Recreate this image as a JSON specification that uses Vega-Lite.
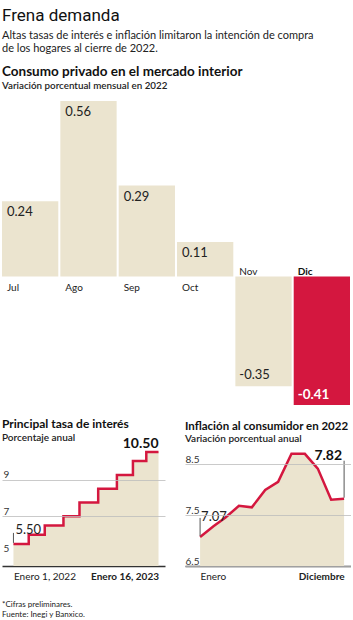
{
  "$schema": "https://vega.github.io/schema/vega-lite/v6.json",
  "background": "white",
  "padding": {"left": 2, "right": 0, "top": 6, "bottom": 0},
  "config": {
    "view": {"stroke": null},
    "font": "Lato",
    "text": {"font": "Lato", "color": "#222"},
    "axis": {"labelFont": "Lato", "labelColor": "#333"},
    "locale": {
      "number": {"decimal": ".", "thousands": ",", "grouping": [3], "currency": ["$", ""], "minus": "-"},
      "time": {
        "dateTime": "%A, %e de %B de %Y, %X",
        "date": "%d/%m/%Y",
        "time": "%H:%M:%S",
        "periods": ["AM", "PM"],
        "days": ["Domingo", "Lunes", "Martes", "Miércoles", "Jueves", "Viernes", "Sábado"],
        "shortDays": ["Dom", "Lun", "Mar", "Mié", "Jue", "Vie", "Sáb"],
        "months": ["Enero", "Febrero", "Marzo", "Abril", "Mayo", "Junio", "Julio", "Agosto", "Septiembre", "Octubre", "Noviembre", "Diciembre"],
        "shortMonths": ["Ene", "Feb", "Mar", "Abr", "May", "Jun", "Jul", "Ago", "Sep", "Oct", "Nov", "Dic"]
      }
    }
  },
  "title": {
    "text": "Frena demanda",
    "subtitle": ["Altas tasas de interés e inflación limitaron la intención de compra", "de los hogares al cierre de 2022."],
    "anchor": "start",
    "frame": "group",
    "font": "Roboto",
    "fontSize": 17,
    "fontWeight": "normal",
    "color": "#111",
    "subtitleFont": "Lato",
    "subtitleFontSize": 11,
    "subtitleColor": "#222",
    "subtitleLineHeight": 13,
    "subtitlePadding": 5,
    "offset": 10
  },
  "spacing": 12,
  "vconcat": [
    {
      "width": 348,
      "height": 304,
      "title": {
        "text": "Consumo privado en el mercado interior",
        "subtitle": "Variación porcentual mensual en 2022",
        "anchor": "start",
        "frame": "group",
        "font": "Lato",
        "fontSize": 13.5,
        "fontWeight": "bold",
        "color": "#111",
        "subtitleFont": "Lato",
        "subtitleFontSize": 9.8,
        "subtitleFontWeight": 600,
        "subtitleColor": "#222",
        "subtitlePadding": 3,
        "offset": 10
      },
      "data": {
        "values": [
          {"mes": "Jul", "valor": 0.24},
          {"mes": "Ago", "valor": 0.56},
          {"mes": "Sep", "valor": 0.29},
          {"mes": "Oct", "valor": 0.11},
          {"mes": "Nov", "valor": -0.35},
          {"mes": "Dic", "valor": -0.41}
        ]
      },
      "encoding": {
        "x": {"field": "mes", "type": "nominal", "sort": null, "axis": null, "scale": {"paddingInner": 0.035, "paddingOuter": 0}}
      },
      "layer": [
        {
          "mark": {"type": "bar"},
          "encoding": {
            "y": {"field": "valor", "type": "quantitative", "axis": null, "scale": {"domain": [-0.41, 0.56], "nice": false}},
            "color": {"condition": {"test": "datum.mes === 'Dic'", "value": "#d4173f"}, "value": "#ebe4cf"}
          }
        },
        {
          "transform": [{"filter": "datum.valor > 0"}],
          "mark": {"type": "text", "align": "left", "baseline": "top", "dx": 5, "dy": 5, "fontSize": 13},
          "encoding": {
            "x": {"field": "mes", "type": "nominal", "sort": null, "bandPosition": 0},
            "y": {"field": "valor", "type": "quantitative"},
            "text": {"field": "valor", "type": "quantitative", "format": ".2f"}
          }
        },
        {
          "transform": [{"filter": "datum.mes === 'Nov'"}],
          "mark": {"type": "text", "align": "left", "baseline": "bottom", "dx": 4, "dy": -4, "fontSize": 13, "color": "#222"},
          "encoding": {
            "x": {"field": "mes", "type": "nominal", "sort": null, "bandPosition": 0},
            "y": {"field": "valor", "type": "quantitative"},
            "text": {"field": "valor", "type": "quantitative", "format": ".2f"}
          }
        },
        {
          "transform": [{"filter": "datum.mes === 'Dic'"}],
          "mark": {"type": "text", "align": "left", "baseline": "bottom", "dx": 4, "dy": -3, "fontSize": 13.5, "fontWeight": "bold", "color": "white"},
          "encoding": {
            "x": {"field": "mes", "type": "nominal", "sort": null, "bandPosition": 0},
            "y": {"field": "valor", "type": "quantitative"},
            "text": {"field": "valor", "type": "quantitative", "format": ".2f"}
          }
        },
        {
          "transform": [{"filter": "datum.valor > 0"}],
          "mark": {"type": "text", "align": "left", "baseline": "top", "dx": 5, "dy": 6, "fontSize": 10},
          "encoding": {
            "x": {"field": "mes", "type": "nominal", "sort": null, "bandPosition": 0},
            "y": {"datum": 0},
            "text": {"field": "mes", "type": "nominal"}
          }
        },
        {
          "transform": [{"filter": "datum.mes === 'Nov'"}],
          "mark": {"type": "text", "align": "left", "baseline": "bottom", "dx": 4, "dy": 0, "fontSize": 10},
          "encoding": {
            "x": {"field": "mes", "type": "nominal", "sort": null, "bandPosition": 0},
            "y": {"datum": 0},
            "text": {"field": "mes", "type": "nominal"}
          }
        },
        {
          "transform": [{"filter": "datum.mes === 'Dic'"}],
          "mark": {"type": "text", "align": "left", "baseline": "bottom", "dx": 4, "dy": 0, "fontSize": 10, "fontWeight": "bold", "color": "#111"},
          "encoding": {
            "x": {"field": "mes", "type": "nominal", "sort": null, "bandPosition": 0},
            "y": {"datum": 0},
            "text": {"field": "mes", "type": "nominal"}
          }
        }
      ]
    },
    {
      "spacing": 20,
      "title": {
        "text": ["*Cifras preliminares.", "Fuente: Inegi y Banxico."],
        "orient": "bottom",
        "anchor": "start",
        "frame": "group",
        "font": "Lato",
        "fontSize": 8,
        "fontWeight": "normal",
        "lineHeight": 10,
        "color": "#222",
        "offset": 20
      },
      "hconcat": [
        {
          "width": 163,
          "height": 129,
          "title": {
            "text": "Principal tasa de interés",
            "subtitle": "Porcentaje anual",
            "anchor": "start",
            "frame": "group",
            "font": "Lato",
            "fontSize": 12,
            "fontWeight": "bold",
            "color": "#111",
            "subtitleFont": "Lato",
            "subtitleFontSize": 10,
            "subtitleFontWeight": 600,
            "subtitleColor": "#222",
            "subtitlePadding": 2,
            "offset": -7
          },
          "data": {
            "values": [
              {"fecha": "2022-01-01T00:00:00", "tasa": 5.5},
              {"fecha": "2022-02-10T00:00:00", "tasa": 6.0},
              {"fecha": "2022-03-24T00:00:00", "tasa": 6.5},
              {"fecha": "2022-05-12T00:00:00", "tasa": 7.0},
              {"fecha": "2022-06-23T00:00:00", "tasa": 7.75},
              {"fecha": "2022-08-11T00:00:00", "tasa": 8.5},
              {"fecha": "2022-09-29T00:00:00", "tasa": 9.25},
              {"fecha": "2022-11-10T00:00:00", "tasa": 10.0},
              {"fecha": "2022-12-15T00:00:00", "tasa": 10.5},
              {"fecha": "2023-01-16T00:00:00", "tasa": 10.5}
            ]
          },
          "encoding": {
            "x": {
              "field": "fecha",
              "type": "temporal",
              "scale": {"domain": [{"year": 2021, "month": 12, "date": 2}, {"year": 2023, "month": 2, "date": 2}], "nice": false},
              "axis": {
                "title": null,
                "values": [{"year": 2022, "month": 1, "date": 1}, {"year": 2023, "month": 1, "date": 16}],
                "format": "%B %-d, %Y",
                "grid": false,
                "ticks": false,
                "domainColor": "#333",
                "domainWidth": 1.5,
                "labelFontSize": 10,
                "labelPadding": 5,
                "labelColor": "#222",
                "labelAlign": {"condition": {"test": "year(datum.value) == 2022", "value": "left"}, "value": "right"},
                "labelFontWeight": {"condition": {"test": "year(datum.value) == 2022", "value": "normal"}, "value": "bold"}
              }
            },
            "y": {
              "field": "tasa",
              "type": "quantitative",
              "stack": null,
              "scale": {"domain": [4.3, 11.31], "nice": false, "zero": false},
              "axis": {
                "title": null,
                "values": [5, 7, 9],
                "domain": false,
                "ticks": false,
                "tickSize": 0,
                "labelAlign": "left",
                "labelBaseline": "alphabetic",
                "labelPadding": -1,
                "labelOffset": -2,
                "labelFontSize": 10,
                "gridColor": "#bdbdbd",
                "gridWidth": 0.8,
                "gridOpacity": {"condition": {"test": "datum.value == 5", "value": 0}, "value": 1},
                "zindex": 1
              }
            }
          },
          "layer": [
            {"mark": {"type": "area", "interpolate": "step-after", "color": "#ebe4cf"}, "encoding": {"y2": {"datum": 4.3}}},
            {"mark": {"type": "line", "interpolate": "step-after", "color": "#d4173f", "strokeWidth": 2.5}},
            {
              "transform": [{"filter": {"field": "fecha", "equal": {"year": 2022, "month": 1, "date": 1}}}],
              "mark": {"type": "rule", "color": "#555", "strokeWidth": 1, "yOffset": -1, "y2Offset": -11},
              "encoding": {"y2": {"field": "tasa"}}
            },
            {
              "transform": [{"filter": {"field": "fecha", "equal": {"year": 2022, "month": 1, "date": 1}}}],
              "mark": {"type": "text", "align": "left", "baseline": "alphabetic", "dx": 2, "dy": -10, "fontSize": 13},
              "encoding": {"text": {"field": "tasa", "type": "quantitative", "format": ".2f"}}
            },
            {
              "transform": [{"filter": {"field": "fecha", "equal": {"year": 2023, "month": 1, "date": 16}}}],
              "mark": {"type": "text", "align": "right", "baseline": "alphabetic", "dx": 0, "dy": -4, "fontSize": 14, "fontWeight": "bold", "color": "#111"},
              "encoding": {"text": {"field": "tasa", "type": "quantitative", "format": ".2f"}}
            }
          ]
        },
        {
          "width": 166,
          "height": 129,
          "title": {
            "text": "Inflación al consumidor en 2022",
            "subtitle": "Variación porcentual anual",
            "anchor": "start",
            "frame": "group",
            "font": "Lato",
            "fontSize": 11.5,
            "fontWeight": "bold",
            "color": "#111",
            "subtitleFont": "Lato",
            "subtitleFontSize": 10,
            "subtitleFontWeight": 600,
            "subtitleColor": "#222",
            "subtitlePadding": 2,
            "offset": -7
          },
          "data": {
            "values": [
              {"fecha": "2022-01-01T00:00:00", "inflacion": 7.07},
              {"fecha": "2022-02-01T00:00:00", "inflacion": 7.28},
              {"fecha": "2022-03-01T00:00:00", "inflacion": 7.45},
              {"fecha": "2022-04-01T00:00:00", "inflacion": 7.68},
              {"fecha": "2022-05-01T00:00:00", "inflacion": 7.65},
              {"fecha": "2022-06-01T00:00:00", "inflacion": 7.99},
              {"fecha": "2022-07-01T00:00:00", "inflacion": 8.15},
              {"fecha": "2022-08-01T00:00:00", "inflacion": 8.70},
              {"fecha": "2022-09-01T00:00:00", "inflacion": 8.70},
              {"fecha": "2022-10-01T00:00:00", "inflacion": 8.41},
              {"fecha": "2022-11-01T00:00:00", "inflacion": 7.80},
              {"fecha": "2022-12-01T00:00:00", "inflacion": 7.82}
            ]
          },
          "encoding": {
            "x": {
              "field": "fecha",
              "type": "temporal",
              "scale": {"domain": [{"year": 2021, "month": 11, "date": 27}, {"year": 2022, "month": 12, "date": 17}], "nice": false},
              "axis": {
                "title": null,
                "values": [{"year": 2022, "month": 1, "date": 1}, {"year": 2022, "month": 12, "date": 1}],
                "format": "%B",
                "grid": false,
                "ticks": false,
                "domainColor": "#333",
                "domainWidth": 1.5,
                "labelFontSize": 10,
                "labelPadding": 5,
                "labelColor": "#222",
                "labelAlign": {"condition": {"test": "month(datum.value) == 0", "value": "left"}, "value": "right"},
                "labelFontWeight": {"condition": {"test": "month(datum.value) == 0", "value": "normal"}, "value": "bold"}
              }
            },
            "y": {
              "field": "inflacion",
              "type": "quantitative",
              "stack": null,
              "scale": {"domain": [6.5, 9.03], "nice": false, "zero": false},
              "axis": {
                "title": null,
                "values": [6.5, 7.5, 8.5],
                "format": ".1f",
                "domain": false,
                "ticks": false,
                "tickSize": 0,
                "labelAlign": "left",
                "labelBaseline": "alphabetic",
                "labelPadding": 0,
                "labelOffset": -2,
                "labelFontSize": 10,
                "gridColor": "#bdbdbd",
                "gridWidth": 0.8,
                "zindex": 1
              }
            }
          },
          "layer": [
            {"mark": {"type": "area", "color": "#ebe4cf"}, "encoding": {"y2": {"datum": 6.5}}},
            {"mark": {"type": "line", "color": "#d4173f", "strokeWidth": 2.5}},
            {
              "transform": [{"filter": {"field": "fecha", "equal": {"year": 2022, "month": 1, "date": 1}}}],
              "mark": {"type": "rule", "color": "#555", "strokeWidth": 1, "yOffset": -1, "y2Offset": -19},
              "encoding": {"y2": {"field": "inflacion"}}
            },
            {
              "transform": [{"filter": {"field": "fecha", "equal": {"year": 2022, "month": 1, "date": 1}}}],
              "mark": {"type": "text", "align": "left", "baseline": "alphabetic", "dx": 1, "dy": -16, "fontSize": 13},
              "encoding": {"text": {"field": "inflacion", "type": "quantitative", "format": ".2f"}}
            },
            {
              "transform": [{"filter": {"field": "fecha", "equal": {"year": 2022, "month": 12, "date": 1}}}],
              "mark": {"type": "rule", "color": "#555", "strokeWidth": 1, "yOffset": -1, "y2Offset": -38},
              "encoding": {"y2": {"field": "inflacion"}}
            },
            {
              "transform": [{"filter": {"field": "fecha", "equal": {"year": 2022, "month": 12, "date": 1}}}],
              "mark": {"type": "text", "align": "right", "baseline": "alphabetic", "dx": -2, "dy": -39, "fontSize": 14, "fontWeight": "bold", "color": "#111"},
              "encoding": {"text": {"field": "inflacion", "type": "quantitative", "format": ".2f"}}
            }
          ]
        }
      ]
    }
  ]
}
